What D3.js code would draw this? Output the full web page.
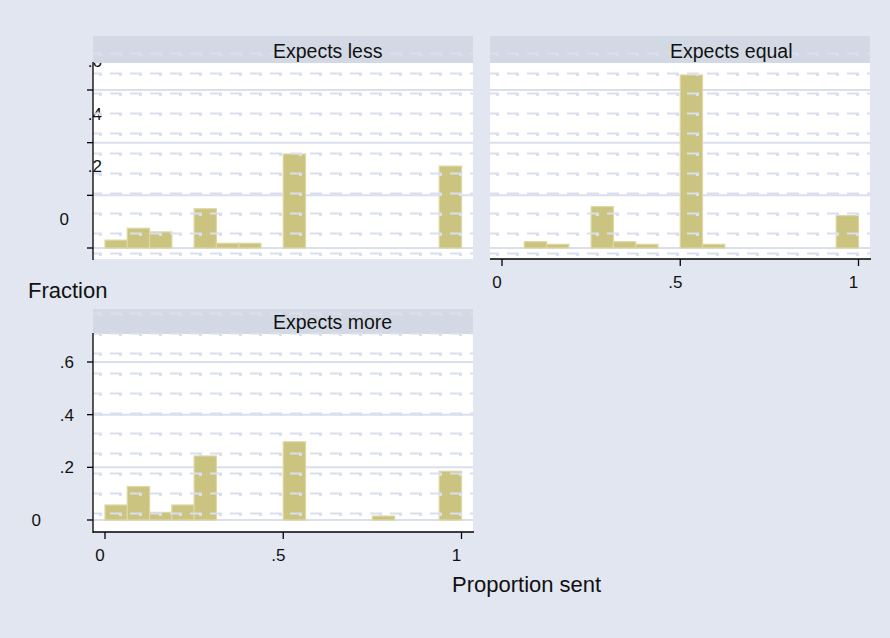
<!DOCTYPE html>
<html>
<head>
<meta charset="utf-8">
<script src="https://cdn.jsdelivr.net/npm/d3@7"></script>
<style>
  body { margin: 0; background: #e1e6f0; }
  text { font-family: "Liberation Sans", Arial, sans-serif; fill: #111; }
</style>
</head>
<body>
<div class="chart"></div>
<script>
// --- Data ---
const panelTitles = ["Expects less", "Expects equal", "Expects more"];
const binWidth = 0.0625;

const lessBins = [0, 0.0625, 0.125, 0.25, 0.3125, 0.375, 0.5, 0.9375];
const lessFrac = [0.030, 0.075, 0.061, 0.149, 0.018, 0.018, 0.357, 0.311];

const equalBins = [0.0625, 0.125, 0.25, 0.3125, 0.375, 0.5, 0.5625, 0.9375];
const equalFrac = [0.024, 0.014, 0.157, 0.024, 0.014, 0.657, 0.014, 0.123];

const moreBins = [0, 0.0625, 0.125, 0.1875, 0.25, 0.5, 0.75, 0.9375];
const moreFrac = [0.057, 0.127, 0.029, 0.057, 0.243, 0.297, 0.015, 0.185];

const yTicks = [0, 0.2, 0.4, 0.6];
const yTickLabels = ["0", ".2", ".4", ".6"];
const xTicks = [0, 0.5, 1];
const xTickLabels = ["0", ".5", "1"];

// --- Config ---
const width = 890, height = 638;
const bg = "#e1e6f0", stripFill = "#d3d9e4", gridCol = "#d9dfec";
const barFill = "#cbc380", barStroke = "#ddd7a3";

const panels = [
  { title: panelTitles[0], bins: lessBins, frac: lessFrac, left: 93, right: 473,
    stripTop: 36, plotTop: 63, plotBottom: 259, y0: 248, yTop: 90, dashStart: 53.5,
    yAxis: true, xAxis: false, shift: [28, -29] },
  { title: panelTitles[1], bins: equalBins, frac: equalFrac, left: 490, right: 870,
    stripTop: 36, plotTop: 63, plotBottom: 259, y0: 248, yTop: 90, dashStart: 53.5,
    yAxis: false, xAxis: true, shift: [0, 0] },
  { title: panelTitles[2], bins: moreBins, frac: moreFrac, left: 93, right: 473,
    stripTop: 309, plotTop: 334, plotBottom: 532, y0: 520, yTop: 362, dashStart: 313.5,
    yAxis: true, xAxis: true, shift: [0, 0] }
];

const svg = d3.select(".chart").append("svg")
  .attr("width", width).attr("height", height);

svg.append("rect").attr("width", width).attr("height", height).attr("fill", bg);

panels.forEach(p => {
  const g = svg.append("g");
  const x = d3.scaleLinear().domain([0, 1]).range([p.left + 12, p.left + 368.5]);
  const y = d3.scaleLinear().domain([0, 0.6]).range([p.y0, p.yTop]);
  const data = p.bins.map((b, i) => ({ bin: b, frac: p.frac[i] }));

  // plot area
  g.append("rect")
    .attr("x", p.left).attr("y", p.plotTop)
    .attr("width", p.right - p.left).attr("height", p.plotBottom - p.plotTop)
    .attr("fill", "#fff");

  // solid grid lines at ticks
  g.selectAll(".grid").data(yTicks).enter().append("line")
    .attr("x1", p.left).attr("x2", p.right)
    .attr("y1", d => y(d)).attr("y2", d => y(d))
    .attr("stroke", gridCol).attr("stroke-width", 2);

  // bars
  g.selectAll(".bar").data(data).enter().append("rect")
    .attr("x", d => x(d.bin))
    .attr("y", d => y(d.frac))
    .attr("width", d => x(d.bin + binWidth) - x(d.bin))
    .attr("height", d => y(0) - y(d.frac))
    .attr("fill", barFill)
    .attr("stroke", barStroke).attr("stroke-width", 1.2);

  // y axis labels (drawn before the strip so the top one is hidden)
  if (p.yAxis) {
    g.selectAll(".ylab").data(yTicks).enter().append("text")
      .attr("x", d => (d === 0 ? p.left - 52 : p.left - 19) + p.shift[0])
      .attr("y", d => y(d) + p.shift[1])
      .attr("dy", "0.36em")
      .attr("text-anchor", "end")
      .style("font-size", "17px")
      .text((d, i) => yTickLabels[i]);
  }

  // strip
  g.append("rect")
    .attr("x", p.left).attr("y", p.stripTop)
    .attr("width", p.right - p.left).attr("height", p.plotTop - p.stripTop)
    .attr("fill", stripFill);

  // dashed pattern rows
  const rows = d3.range(p.dashStart, p.plotBottom, 20);
  g.selectAll(".dash").data(rows).enter().append("line")
    .attr("x1", p.left).attr("x2", p.right)
    .attr("y1", d => d).attr("y2", d => d)
    .attr("stroke", gridCol).attr("stroke-width", 2)
    .attr("stroke-dasharray", "12,8").attr("stroke-dashoffset", 3);
  g.selectAll(".hook").data(rows).enter().append("line")
    .attr("x1", p.left).attr("x2", p.right)
    .attr("y1", d => d + 1.5).attr("y2", d => d + 1.5)
    .attr("stroke", gridCol).attr("stroke-width", 2)
    .attr("stroke-dasharray", "3,17").attr("stroke-dashoffset", -6);

  g.append("text")
    .attr("x", p.left + 180).attr("y", p.plotTop - 5.5)
    .style("font-size", "19.5px")
    .text(p.title);

  if (p.yAxis) {
    g.append("line")
      .attr("x1", p.left).attr("x2", p.left)
      .attr("y1", p.plotTop - 1).attr("y2", p.plotBottom + 1)
      .attr("stroke", "#000").attr("stroke-width", 1.3);
    g.selectAll(".ytick").data(yTicks).enter().append("line")
      .attr("x1", p.left - 6).attr("x2", p.left)
      .attr("y1", d => y(d)).attr("y2", d => y(d))
      .attr("stroke", "#000").attr("stroke-width", 1.3);
  }

  if (p.xAxis) {
    g.append("line")
      .attr("x1", p.left).attr("x2", p.right + 1)
      .attr("y1", p.plotBottom).attr("y2", p.plotBottom)
      .attr("stroke", "#000").attr("stroke-width", 1.3);
    g.selectAll(".xtick").data(xTicks).enter().append("line")
      .attr("x1", d => x(d)).attr("x2", d => x(d))
      .attr("y1", p.plotBottom).attr("y2", p.plotBottom + 7)
      .attr("stroke", "#000").attr("stroke-width", 1.3);
    g.selectAll(".xlab").data(xTicks).enter().append("text")
      .attr("x", d => x(d) - 5)
      .attr("y", p.plotBottom + 29)
      .attr("text-anchor", "middle")
      .style("font-size", "17px")
      .text((d, i) => xTickLabels[i]);
  }
});

// --- Axis titles ---
svg.append("text").attr("x", 28).attr("y", 298)
  .style("font-size", "22px").text("Fraction");
svg.append("text").attr("x", 452).attr("y", 592)
  .style("font-size", "22px").text("Proportion sent");
</script>
</body>
</html>
